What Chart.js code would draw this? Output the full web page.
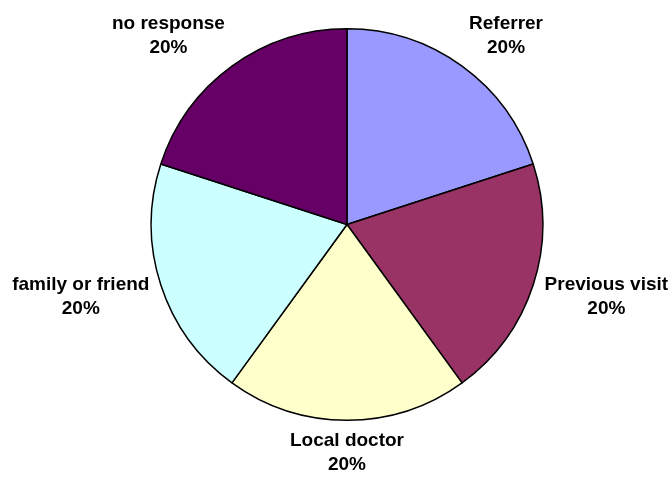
<!DOCTYPE html>
<html>
<head>
<meta charset="utf-8">
<script src="https://cdn.jsdelivr.net/npm/chart.js@4/dist/chart.umd.min.js"></script>
<style>
  html, body { margin: 0; padding: 0; background: #ffffff; }
  #wrap { width: 670px; height: 477px; position: relative; }
</style>
</head>
<body>
<div id="wrap"><canvas id="c" width="670" height="477"></canvas></div>
<script>
const categories = ["Referrer", "Previous visit", "Local doctor", "family or friend", "no response"];
const values = [20, 20, 20, 20, 20];
const colors = ["#9999FF", "#993366", "#FFFFCC", "#CCFFFF", "#660066"];

const labelPlugin = {
  id: "outsideLabels",
  afterDatasetsDraw(chart) {
    const ctx = chart.ctx;
    const meta = chart.getDatasetMeta(0);
    const total = values.reduce((a, b) => a + b, 0);
    ctx.save();
    ctx.font = "bold 19px 'Liberation Sans', Arial, sans-serif";
    ctx.fillStyle = "#000000";
    ctx.textAlign = "center";
    ctx.textBaseline = "middle";
    const lineH = 24;
    meta.data.forEach((arc, i) => {
      const p = arc.getProps(["x", "y", "startAngle", "endAngle", "outerRadius"], true);
      const mid = (p.startAngle + p.endAngle) / 2;
      const ux = Math.cos(mid), uy = Math.sin(mid);
      const r = p.outerRadius + 12;
      const line1 = categories[i];
      const line2 = Math.round(values[i] / total * 100) + "%";
      const w = Math.max(ctx.measureText(line1).width, ctx.measureText(line2).width);
      const h = 42;
      const fx = Math.max(-1, Math.min(1, ux * 1.7));
      const fy = Math.max(-1, Math.min(1, uy * 1.2));
      const cx = p.x + r * ux + fx * w / 2;
      const cy = p.y + r * uy + fy * h / 2;
      ctx.fillText(line1, cx, cy - lineH / 2);
      ctx.fillText(line2, cx, cy + lineH / 2);
    });
    ctx.restore();
  }
};

new Chart(document.getElementById("c"), {
  type: "pie",
  data: {
    labels: categories,
    datasets: [{
      data: values,
      backgroundColor: colors,
      borderColor: "#000000",
      borderWidth: 1.5
    }]
  },
  options: {
    responsive: false,
    animation: false,
    layout: { padding: { top: 28, bottom: 56, left: 150, right: 126 } },
    plugins: {
      legend: { display: false },
      tooltip: { enabled: false }
    }
  },
  plugins: [labelPlugin]
});
</script>
</body>
</html>
